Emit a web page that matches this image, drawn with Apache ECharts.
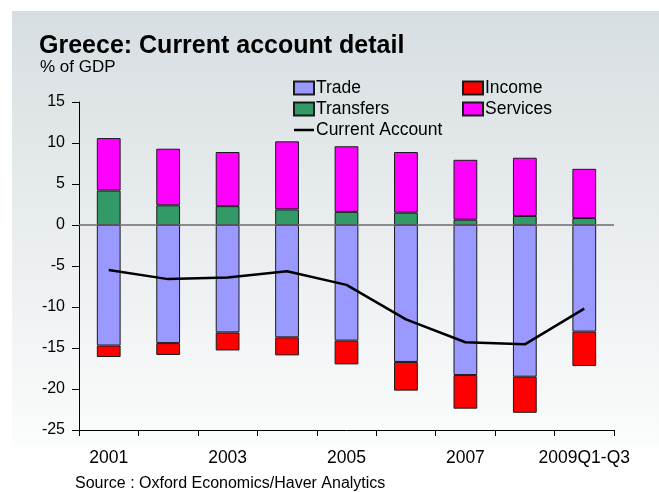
<!DOCTYPE html>
<html>
<head>
<meta charset="utf-8">
<script src="https://cdn.jsdelivr.net/npm/echarts@6/dist/echarts.min.js"></script>
<style>
  html, body { margin: 0; padding: 0; background: #ffffff; }
  #chart { width: 659px; height: 492px; }
</style>
</head>
<body>
<div id="chart"></div>
<script>
// Greece current account components, % of GDP
const categories = ['2001', '2002', '2003', '2004', '2005', '2006', '2007', '2008', '2009Q1-Q3'];
const trade     = [-14.7, -14.4, -13.1, -13.7, -14.1, -16.7, -18.3, -18.5, -13.0];
const income    = [-1.4, -1.45, -2.2, -2.2, -2.9, -3.5, -4.1, -4.4, -4.2];
const transfers = [4.2, 2.4, 2.3, 1.9, 1.6, 1.5, 0.65, 1.1, 0.85];
const services  = [6.4, 6.9, 6.6, 8.3, 8.0, 7.4, 7.3, 7.1, 6.0];
const currentAccount = [-5.5, -6.6, -6.4, -5.65, -7.3, -11.5, -14.3, -14.55, -10.2];
const yTicks = { min: -25, max: 15, step: 5 };

const FONT = 'Liberation Sans, Arial, sans-serif';
const chart = echarts.init(document.getElementById('chart'), null, { renderer: 'canvas' });

const barBorder = { borderColor: '#1a1a1a', borderWidth: 1 };
function barSeries(name, data, color) {
  return {
    name: name,
    type: 'bar',
    stack: 'total',
    data: data,
    barWidth: '40%',
    itemStyle: Object.assign({ color: color }, barBorder),
    emphasis: { disabled: true }
  };
}

const tradeSeries = barSeries('Trade', trade, '#9999ff');
tradeSeries.markLine = {
  silent: true,
  symbol: 'none',
  label: { show: false },
  lineStyle: { color: '#6b6b6b', type: 'solid', width: 1.5 },
  data: [{ yAxis: 0 }]
};

const legendText = { fontFamily: FONT, fontSize: 17.5, color: '#000', padding: [0, 0, 0, -3] };
const lineIcon = 'path://M0,0L20,0L20,2.5L0,2.5Z';

chart.setOption({
  animation: false,
  textStyle: { fontFamily: FONT },
  graphic: [{
    type: 'rect',
    z: -10,
    shape: { x: 12, y: 11, width: 647, height: 436 },
    style: {
      fill: new echarts.graphic.LinearGradient(0, 0, 0, 1, [
        { offset: 0, color: '#d7dee1' },
        { offset: 1, color: '#fbfcfc' }
      ])
    }
  }, {
    type: 'text',
    left: 75,
    top: 476,
    style: { text: 'Source : Oxford Economics/Haver Analytics', font: '16px ' + FONT, fill: '#000' }
  }],
  title: [{
    text: 'Greece: Current account detail',
    left: 39,
    top: 34,
    padding: 0,
    textStyle: { fontFamily: FONT, fontSize: 25, fontWeight: 'bold', color: '#000' }
  }, {
    text: '% of GDP',
    left: 40,
    top: 59,
    padding: 0,
    textStyle: { fontFamily: FONT, fontSize: 17, fontWeight: 'normal', color: '#000' }
  }],
  legend: [{
    data: ['Trade', 'Transfers', { name: 'Current Account', icon: lineIcon }],
    orient: 'vertical',
    left: 293,
    top: 79,
    padding: 0,
    itemGap: 3,
    itemWidth: 20,
    itemHeight: 13,
    icon: 'rect',
    selectedMode: false,
    textStyle: legendText
  }, {
    data: ['Income', 'Services'],
    orient: 'vertical',
    left: 462,
    top: 79,
    padding: 0,
    itemGap: 3,
    itemWidth: 20,
    itemHeight: 13,
    icon: 'rect',
    selectedMode: false,
    textStyle: legendText
  }],
  grid: { left: 79, right: 45, top: 102, bottom: 62, containLabel: false },
  xAxis: {
    type: 'category',
    data: categories,
    boundaryGap: true,
    axisLine: { onZero: false, lineStyle: { color: '#000', width: 1 } },
    axisTick: { show: true, interval: 0, length: 6, inside: false, lineStyle: { color: '#000' } },
    axisLabel: { interval: 1, margin: 19, fontFamily: FONT, fontSize: 17.5, color: '#000' },
    splitLine: { show: false }
  },
  yAxis: {
    type: 'value',
    min: yTicks.min,
    max: yTicks.max,
    interval: yTicks.step,
    axisLine: { show: true, lineStyle: { color: '#000', width: 1 } },
    axisTick: { show: true, length: 7, lineStyle: { color: '#000' } },
    axisLabel: { margin: 14, fontFamily: FONT, fontSize: 16, color: '#000' },
    splitLine: { show: false }
  },
  series: [
    tradeSeries,
    barSeries('Income', income, '#ff0000'),
    barSeries('Transfers', transfers, '#339966'),
    barSeries('Services', services, '#ff00ff'),
    {
      name: 'Current Account',
      type: 'line',
      data: currentAccount,
      symbol: 'none',
      z: 5,
      lineStyle: { color: '#000', width: 2.5 },
      itemStyle: { color: '#000' },
      emphasis: { disabled: true }
    }
  ]
});
</script>
</body>
</html>
